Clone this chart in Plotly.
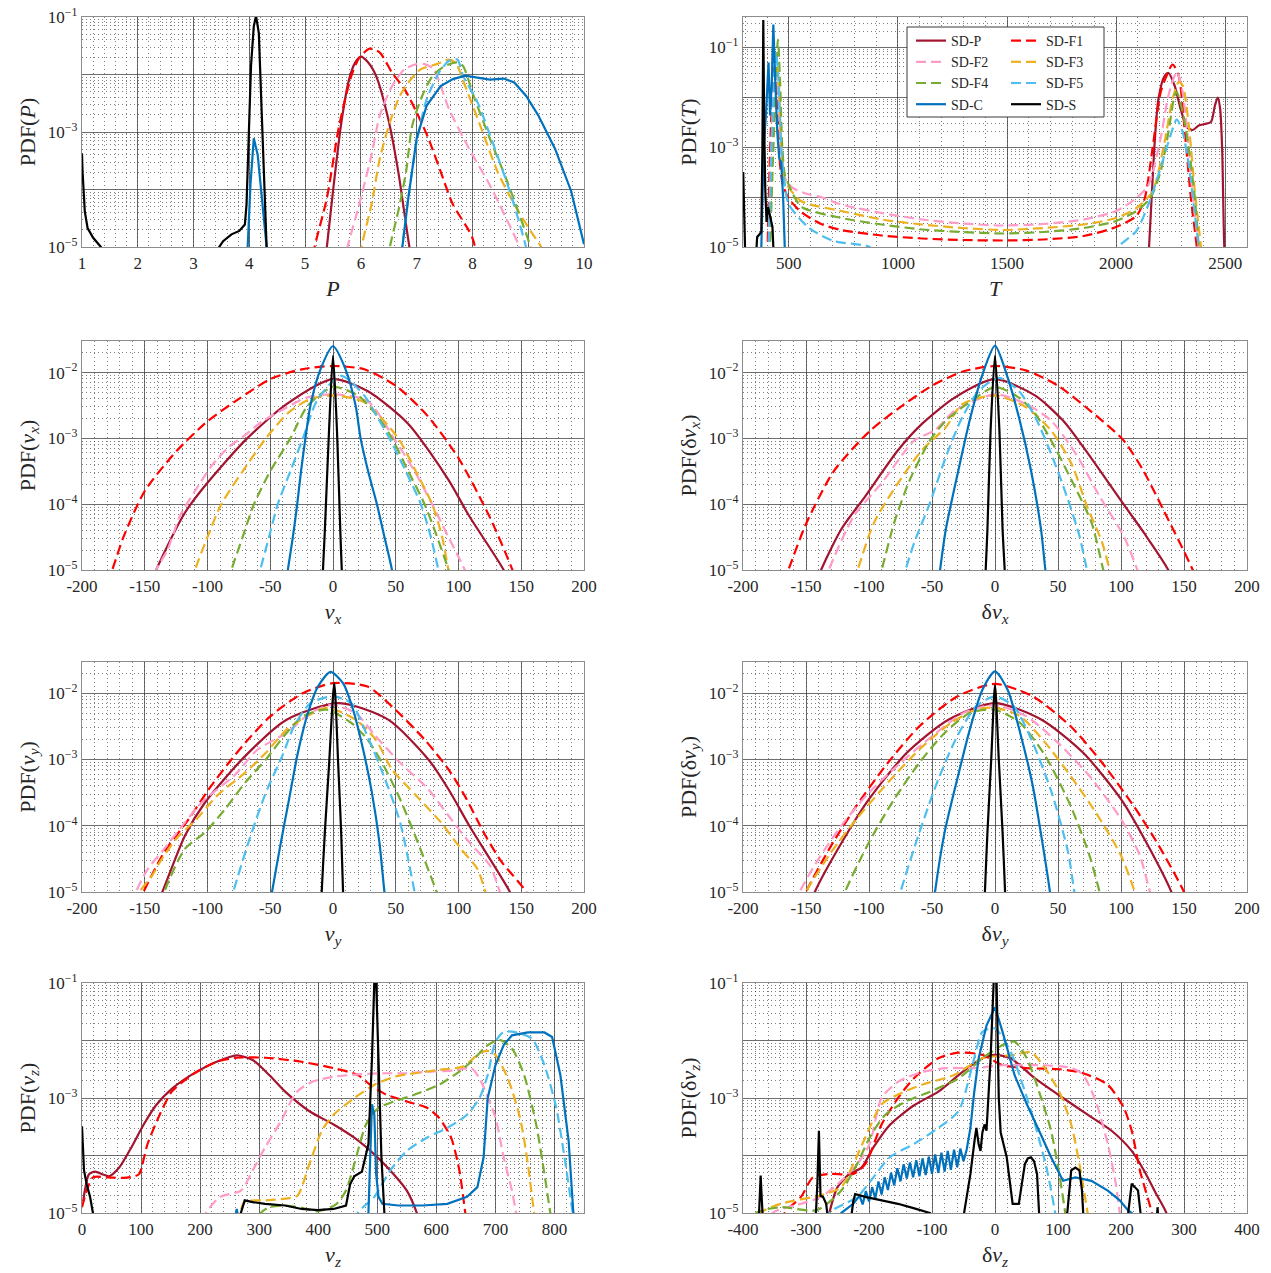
import plotly.graph_objects as go

# ---------------- data (x, log10 PDF) ----------------
SERIES = ["SD-P", "SD-F1", "SD-F2", "SD-F3", "SD-F4", "SD-F5", "SD-C", "SD-S"]

P_CURVES = {
    "SD-P": ([5.3, 5.39, 5.5, 5.65, 5.79, 5.9, 6.0, 6.12, 6.27, 6.49, 6.67, 6.87, 6.95],
             [-5.7, -5.0, -4.03, -2.83, -2.08, -1.79, -1.69, -1.78, -2.02, -2.77, -3.69, -5.0, -5.4]),
    "SD-F1": ([5.1, 5.17, 5.39, 5.61, 5.83, 5.97, 6.16, 6.34, 6.56, 6.78, 7.0, 7.21, 7.43, 7.65, 7.94, 8.02, 8.1],
              [-5.4, -5.0, -4.15, -2.89, -2.02, -1.71, -1.55, -1.62, -1.97, -2.25, -2.66, -3.11, -3.69, -4.26, -4.72, -4.9, -5.3]),
    "SD-F2": ([5.7, 5.76, 5.97, 6.19, 6.34, 6.56, 6.78, 7.0, 7.14, 7.3, 7.58, 7.94, 8.31, 8.6, 8.82, 8.9],
              [-5.3, -5.0, -4.26, -3.4, -2.71, -2.2, -1.91, -1.82, -1.82, -1.9, -2.6, -3.29, -3.92, -4.49, -4.95, -5.2]),
    "SD-F3": ([5.95, 6.01, 6.19, 6.34, 6.52, 6.7, 6.85, 7.07, 7.36, 7.58, 7.7, 7.87, 8.16, 8.45, 8.75, 9.04, 9.22, 9.3],
              [-5.4, -5.0, -4.26, -3.46, -2.83, -2.37, -2.14, -1.91, -1.82, -1.74, -1.8, -2.2, -2.94, -3.69, -4.26, -4.72, -4.98, -5.2]),
    "SD-F4": ([6.45, 6.52, 6.67, 6.81, 6.92, 7.1, 7.29, 7.51, 7.73, 7.83, 8.02, 8.31, 8.6, 8.82, 9.04, 9.1],
              [-5.5, -5.0, -4.38, -3.69, -2.89, -2.37, -2.02, -1.85, -1.79, -1.85, -2.37, -3.11, -3.8, -4.38, -5.0, -5.3]),
    "SD-F5": ([6.68, 6.74, 6.85, 7.0, 7.18, 7.4, 7.58, 7.73, 7.83, 8.09, 8.38, 8.67, 8.85, 8.96, 9.05],
              [-5.4, -5.0, -4.15, -3.17, -2.43, -1.97, -1.76, -1.74, -2.02, -2.48, -3.23, -4.03, -4.61, -5.0, -5.4]),
    "SD-C": ([3.93, 3.97, 4.02, 4.08, 4.15, 4.22, 4.31, 4.36, None,
              6.68, 6.74, 6.85, 7.0, 7.18, 7.43, 7.65, 7.87, 8.09, 8.31, 8.56, 8.75, 8.96, 9.18, 9.48, 9.77, 10.0],
             [-5.6, -5.0, -3.92, -3.11, -3.4, -4.15, -5.0, -5.5, None,
              -5.5, -5.0, -4.15, -3.11, -2.54, -2.2, -2.08, -2.02, -2.06, -2.09, -2.07, -2.14, -2.37, -2.71, -3.29, -4.03, -4.95]),
    "SD-S": ([1.0, 1.01, 1.05, 1.1, 1.2, 1.34, 1.4, None,
              3.4, 3.46, 3.53, 3.68, 3.82, 3.92, 3.95, 3.99, 4.03, 4.08, 4.12, 4.17, 4.21, 4.26, 4.31, 4.35],
             [-3.37, -3.69, -4.38, -4.67, -4.84, -5.0, -5.2, None,
              -5.2, -5.0, -4.9, -4.78, -4.72, -4.61, -4.26, -2.99, -1.85, -1.16, -0.98, -1.28, -2.43, -3.86, -5.0, -5.4]),
}

T_CURVES = {
    "SD-P": ([2140, 2151, 2175, 2194, 2222, 2240, 2268, 2296, 2324, 2351, 2379, 2407, 2435, 2453, 2466, 2477, 2486, 2496, 2505],
             [-5.6, -5.0, -3.03, -2.04, -1.58, -1.52, -1.77, -2.24, -2.6, -2.66, -2.57, -2.54, -2.5, -2.17, -2.01, -2.24, -3.03, -5.0, -5.6]),
    "SD-F1": ([400, 417, 432, 445, 460, 473, 500, 556, 648, 741, 926, 1111, 1296, 1481, 1667, 1852, 2000, 2093, 2130,
               2167, 2204, 2231, 2259, 2287, 2315, 2343, 2370, 2380],
              [-5.5, -2.7, -1.38, -2.04, -3.36, -3.76, -4.03, -4.3, -4.54, -4.66, -4.77, -4.83, -4.86, -4.87, -4.85, -4.78,
               -4.6, -4.38, -4.05, -3.03, -1.91, -1.58, -1.35, -1.58, -2.7, -4.03, -5.0, -5.5]),
    "SD-F2": ([405, 420, 437, 450, 462, 480, 519, 593, 648, 741, 926, 1111, 1296, 1481, 1667, 1852, 2000, 2093, 2148,
               2204, 2240, 2278, 2305, 2333, 2361, 2379, 2390],
              [-5.5, -3.0, -1.5, -1.8, -3.0, -3.6, -3.82, -3.95, -4.0, -4.15, -4.32, -4.45, -4.53, -4.57, -4.54, -4.45,
               -4.28, -4.02, -3.76, -2.83, -1.97, -1.5, -1.9, -3.03, -4.35, -5.0, -5.5]),
    "SD-F3": ([410, 425, 442, 455, 468, 485, 556, 741, 926, 1111, 1296, 1481, 1667, 1852, 2000, 2093, 2167, 2222, 2259,
               2287, 2305, 2333, 2361, 2389, 2400],
              [-5.5, -3.0, -1.2, -1.8, -3.2, -3.7, -4.08, -4.28, -4.45, -4.55, -4.62, -4.66, -4.62, -4.55, -4.42, -4.22,
               -3.89, -2.9, -2.04, -1.7, -1.77, -2.56, -3.89, -5.0, -5.5]),
    "SD-F4": ([410, 430, 443, 450, 460, 470, 482, 500, 556, 741, 926, 1111, 1296, 1481, 1667, 1852, 2000, 2093, 2157,
               2204, 2240, 2268, 2278, 2305, 2333, 2361, 2379, 2390],
              [-5.5, -2.9, -1.38, -0.85, -1.7, -3.0, -3.56, -3.76, -4.19, -4.42, -4.55, -4.65, -4.7, -4.73, -4.7, -4.62,
               -4.48, -4.28, -4.02, -3.49, -2.7, -1.97, -1.9, -2.3, -3.03, -4.02, -5.0, -5.5]),
    "SD-F5": ([405, 425, 440, 450, 465, 480, 500, 593, 704, 870, 900, None, 1990, 2009, 2093, 2148, 2204, 2240, 2278,
               2305, 2333, 2361, 2379, 2390],
              [-5.5, -2.5, -1.1, -1.5, -3.0, -3.7, -4.15, -4.62, -4.88, -5.0, -5.2, None, -5.2, -5.0, -4.68, -4.15, -3.42,
               -2.9, -2.45, -2.7, -3.36, -4.35, -5.0, -5.5]),
    "SD-C": ([370, 374, 385, 395, 407, 414, 422, 429, 438, 447, 456, 465, 474, 479, 485],
             [-5.5, -5.0, -3.0, -2.37, -1.31, -2.37, -1.7, -0.55, -1.7, -2.7, -3.23, -3.3, -4.02, -5.0, -5.5]),
    "SD-S": ([291, 294, 298, 302, None, 345, 355, 365, 374, 379, 383, 387, 392, 398, 405, 415, 425, 429, 432],
             [-3.5, -4.2, -5.0, -5.5, None, -5.5, -4.8, -4.75, -4.7, -3.0, -0.46, -2.5, -3.83, -4.5, -4.2, -4.4, -4.6, -5.0, -5.5]),
}

VX_CURVES = {
    "SD-P": ([-150, -141, -118, -102, -70, -37, 0, 27.5, 60, 92, 108.5, 136, 145],
             [-5.4, -5.0, -4.13, -3.72, -3.03, -2.48, -2.1, -2.28, -2.78, -3.63, -4.18, -5.0, -5.4]),
    "SD-F1": ([-185, -176, -167, -150, -125, -100, -75, -50, -25, 0, 25, 50, 75, 100, 125, 143, 150],
              [-5.4, -5.0, -4.5, -3.8, -3.2, -2.74, -2.4, -2.1, -1.95, -1.9, -1.95, -2.2, -2.65, -3.3, -4.2, -5.0, -5.4]),
    "SD-F2": ([-150, -141, -132, -122, -110, -96, -83, -70, -57, -37, -21, 0, 27.5, 48.6, 65, 79, 92, 105, 112],
              [-5.5, -5.0, -4.7, -4.18, -3.8, -3.4, -3.13, -2.95, -2.75, -2.53, -2.38, -2.33, -2.43, -3.0, -3.5, -4.0, -4.5, -5.0, -5.4]),
    "SD-F3": ([-116, -110, -100, -89, -72, -53.5, -35, -18, 0, 25, 52, 66, 79, 87, 92, 97],
              [-5.4, -5.0, -4.5, -4.0, -3.5, -3.0, -2.6, -2.4, -2.35, -2.45, -3.0, -3.5, -4.0, -4.5, -5.0, -5.4]),
    "SD-F4": ([-87, -81, -72, -63, -50, -34, -20, 0, 20, 35, 47, 60, 73, 83, 92, 97],
              [-5.4, -5.0, -4.5, -4.0, -3.5, -3.0, -2.5, -2.22, -2.35, -2.65, -3.0, -3.5, -4.0, -4.5, -5.0, -5.4]),
    "SD-F5": ([-63, -58, -51, -44, -34, -24, -12, 6.5, 25, 36, 45, 58, 70, 78, 84, 89],
              [-5.4, -5.0, -4.5, -4.0, -3.5, -3.0, -2.4, -2.05, -2.35, -2.7, -3.0, -3.5, -4.0, -4.5, -5.0, -5.4]),
    "SD-C": ([-39, -36, -32, -28.5, -25.5, -22, -18, -10, 0, 10, 18, 22, 28, 35, 41, 47, 50],
             [-5.4, -5.0, -4.5, -4.0, -3.5, -3.0, -2.5, -1.95, -1.6, -1.95, -2.5, -3.0, -3.5, -4.0, -4.5, -5.0, -5.4]),
    "SD-S": ([-9, -8, -6.5, -3.2, 0, 3.2, 5.8, 7, 8],
             [-5.5, -5.0, -4.4, -2.9, -1.74, -2.9, -4.4, -5.0, -5.5]),
}

DVX_CURVES = {
    "SD-P": ([-145, -138, -122, -103, -77, -58, -32, 0, 32, 54, 70, 102, 118, 137.5, 145],
             [-5.4, -5.0, -4.38, -3.88, -3.18, -2.78, -2.38, -2.1, -2.35, -2.73, -3.13, -4.0, -4.43, -5.0, -5.4]),
    "SD-F1": ([-172, -164, -150, -128, -100, -77, -50, -25, 0, 25, 50, 80, 102, 118, 134, 157, 165],
              [-5.4, -5.0, -4.3, -3.5, -2.9, -2.55, -2.2, -1.98, -1.9, -1.97, -2.2, -2.65, -3.03, -3.5, -4.1, -5.0, -5.4]),
    "SD-F2": ([-140, -132, -112, -90, -64, -48, -32, 0, 25, 44.5, 64, 83, 102, 113, 120],
              [-5.4, -5.0, -4.18, -3.68, -3.03, -2.88, -2.58, -2.33, -2.48, -2.73, -3.23, -3.88, -4.48, -5.0, -5.4]),
    "SD-F3": ([-115, -109, -96, -77, -58, -39, -26, 0, 25, 44.5, 60.6, 73, 85, 91, 96],
              [-5.4, -5.0, -4.28, -3.68, -3.18, -2.83, -2.48, -2.35, -2.53, -2.88, -3.38, -4.03, -4.58, -5.0, -5.4]),
    "SD-F4": ([-96, -90, -80, -67.6, -51.6, -39, -26, 0, 19, 32, 44.5, 60.6, 76.6, 86, 92],
              [-5.4, -5.0, -4.28, -3.63, -3.03, -2.73, -2.53, -2.22, -2.38, -2.63, -3.03, -3.63, -4.28, -5.0, -5.4]),
    "SD-F5": ([-76, -71, -64, -51.6, -39, -26, -13, 3, 19, 32, 44.5, 57, 67, 73, 78],
              [-5.4, -5.0, -4.58, -3.98, -3.28, -2.68, -2.28, -2.08, -2.28, -2.68, -3.23, -3.88, -4.48, -5.0, -5.4]),
    "SD-C": ([-46, -43.6, -39, -29, -19.5, -10, 0, 9.3, 19, 28.5, 36.5, 40, 43],
             [-5.4, -5.0, -4.38, -3.48, -2.68, -2.03, -1.59, -2.03, -2.68, -3.48, -4.38, -5.0, -5.4]),
    "SD-S": ([-8.5, -7.4, -6, -3.5, 0, 3.5, 6, 7.7, 8.8],
             [-5.5, -5.0, -4.38, -2.88, -1.74, -2.88, -4.38, -5.0, -5.5]),
}

VY_CURVES = {
    "SD-P": ([-145, -136, -118, -102, -70, -37, 5, 44, 76, 92, 108.6, 125, 141, 148],
             [-5.4, -5.0, -4.15, -3.65, -2.95, -2.4, -2.15, -2.4, -3.0, -3.45, -4.0, -4.5, -5.0, -5.3]),
    "SD-F1": ([-160, -151, -134.5, -115, -99, -83, -70, -50, -24, 0, 27.5, 47, 73, 92, 105, 121.5, 134.5, 154, 160],
              [-5.4, -5.0, -4.4, -3.9, -3.45, -3.05, -2.75, -2.35, -2.0, -1.85, -1.9, -2.2, -2.7, -3.15, -3.55, -4.15, -4.55, -5.0, -5.3]),
    "SD-F2": ([-163, -157, -147.5, -134.5, -118, -102, -79, -60, -37, -18, -2, 18, 34, 53.5, 76, 92, 108.6, 125, 133, 138],
              [-5.4, -5.0, -4.65, -4.35, -3.95, -3.6, -3.25, -2.85, -2.6, -2.3, -2.18, -2.3, -2.65, -3.05, -3.45, -3.85, -4.25, -4.6, -5.0, -5.3]),
    "SD-F3": ([-160, -154, -144, -138, -125, -108.6, -92.6, -70, -53.5, -37, -21, -5, 18, 34, 47, 66.5, 86, 102, 115, 121.5, 126],
              [-5.4, -5.0, -4.75, -4.55, -4.2, -3.9, -3.55, -3.2, -2.9, -2.55, -2.35, -2.22, -2.4, -2.7, -3.15, -3.55, -3.95, -4.35, -4.65, -5.0, -5.3]),
    "SD-F4": ([-140, -134.5, -118, -102, -86, -70, -53.5, -37, -24, -5, 14.6, 27.5, 40.5, 53.5, 66.5, 82.6, 88],
              [-5.4, -5.0, -4.35, -4.1, -3.75, -3.35, -3.0, -2.6, -2.35, -2.25, -2.45, -2.7, -3.1, -3.6, -4.2, -5.0, -5.3]),
    "SD-F5": ([-84, -79.4, -66.5, -53.5, -40.5, -31, -18, 0, 14.6, 27.5, 40.5, 53.5, 65, 69],
              [-5.4, -5.0, -4.2, -3.5, -2.95, -2.5, -2.15, -2.05, -2.15, -2.65, -3.25, -3.95, -5.0, -5.4]),
    "SD-C": ([-52, -48.6, -42, -35, -28, -20, -12, -2, 8, 16, 24, 31, 37, 41, 44],
             [-5.4, -5.0, -4.3, -3.6, -2.9, -2.3, -1.9, -1.68, -1.85, -2.25, -2.85, -3.5, -4.25, -5.0, -5.4]),
    "SD-S": ([-10, -9, -6.5, -3.2, 1, 4.2, 6.5, 8, 9],
             [-5.5, -5.0, -4.1, -3.1, -1.85, -3.1, -4.1, -5.0, -5.5]),
}

DVY_CURVES = {
    "SD-P": ([-150, -143, -120, -100, -70, -37, 0, 37, 70, 100, 120, 140, 147],
             [-5.4, -5.0, -4.2, -3.6, -2.9, -2.4, -2.15, -2.4, -2.9, -3.6, -4.25, -5.0, -5.4]),
    "SD-F1": ([-158, -150, -130, -110, -85, -60, -30, 0, 30, 60, 85, 110, 130, 150, 158],
              [-5.4, -5.0, -4.3, -3.7, -3.05, -2.5, -2.05, -1.86, -2.05, -2.5, -3.05, -3.7, -4.3, -5.0, -5.4]),
    "SD-F2": ([-162, -155, -140, -120, -100, -75, -50, -25, 0, 25, 50, 75, 100, 115, 123, 128],
              [-5.4, -5.0, -4.5, -3.95, -3.5, -3.05, -2.65, -2.3, -2.18, -2.35, -2.75, -3.25, -3.9, -4.45, -5.0, -5.3]),
    "SD-F3": ([-157, -150, -130, -110, -85, -60, -35, -15, 0, 20, 40, 60, 80, 100, 111, 116],
              [-5.4, -5.0, -4.4, -3.9, -3.35, -2.85, -2.45, -2.25, -2.22, -2.35, -2.75, -3.25, -3.8, -4.45, -5.0, -5.3]),
    "SD-F4": ([-125, -119, -100, -80, -60, -40, -20, 0, 20, 40, 60, 75, 83, 88],
              [-5.4, -5.0, -4.25, -3.6, -3.05, -2.6, -2.3, -2.25, -2.45, -2.95, -3.7, -4.45, -5.0, -5.4]),
    "SD-F5": ([-80, -75, -60, -45, -30, -15, 0, 15, 30, 45, 58, 63, 67],
              [-5.4, -5.0, -4.1, -3.3, -2.65, -2.2, -2.05, -2.2, -2.75, -3.5, -4.4, -5.0, -5.4]),
    "SD-C": ([-50, -47.6, -40, -30, -20, -10, 0, 10, 20, 30, 38, 43.6, 46],
             [-5.4, -5.0, -4.1, -3.3, -2.55, -1.95, -1.67, -1.95, -2.6, -3.4, -4.3, -5.0, -5.4]),
    "SD-S": ([-9, -8, -6, -3, 0, 3, 6, 8, 9],
             [-5.5, -5.0, -4.1, -3.0, -1.88, -3.0, -4.1, -5.0, -5.5]),
}

VZ_CURVES = {
    "SD-P": ([2, 5, 11.6, 22, 35.6, 46, 63, 83.6, 104, 125, 152, 193, 228, 262, 289, 317, 344, 385, 426, 461, 495, 522, 550, 567, 575],
             [-4.8, -4.6, -4.33, -4.28, -4.33, -4.36, -4.21, -3.86, -3.47, -3.13, -2.84, -2.55, -2.37, -2.26, -2.34, -2.6, -2.89,
              -3.23, -3.46, -3.69, -3.98, -4.26, -4.61, -5.0, -5.3]),
    "SD-F1": ([0, 8, 18.5, 42.5, 70, 90, 97, 111, 131.6, 152, 186, 227.5, 262, 310, 371.5, 426, 467, 488, 515, 550, 584, 604,
               625, 639, 649, 655],
              [-4.9, -4.61, -4.38, -4.38, -4.39, -4.36, -4.32, -3.8, -3.29, -2.89, -2.6, -2.37, -2.3, -2.3, -2.37, -2.48, -2.6,
               -2.77, -2.94, -3.06, -3.17, -3.34, -3.69, -4.26, -5.0, -5.4]),
    "SD-F2": ([200, 210, 234, 269, 289, 310, 337, 364, 392, 426, 467, 508, 550, 591, 632, 659, 673, 700, 714, 728, 735, 742],
              [-5.4, -5.0, -4.72, -4.61, -4.26, -3.86, -3.4, -2.89, -2.71, -2.63, -2.59, -2.57, -2.57, -2.54, -2.52, -2.48,
               -2.66, -3.34, -4.03, -4.61, -5.0, -5.4]),
    "SD-F3": ([265, 275, 310, 344, 364.6, 385, 406, 426, 461, 495, 529, 563.5, 604.5, 646, 673, 687, 700, 721, 741.6, 755,
               765.6, 772],
              [-5.2, -4.81, -4.78, -4.75, -4.7, -4.15, -3.57, -3.29, -3.0, -2.77, -2.63, -2.57, -2.51, -2.45, -2.22, -2.18,
               -2.25, -2.66, -3.34, -4.15, -5.0, -5.4]),
    "SD-F4": ([295, 303, 317, 344, 372, 399, 430, 447, 461, 481, 502, 529, 563.5, 604.5, 639, 659, 687, 707, 728, 748.5,
               769, 783, 793, 800],
              [-5.3, -5.0, -4.9, -4.87, -4.91, -4.97, -4.85, -4.61, -4.15, -3.46, -3.17, -3.06, -2.94, -2.77, -2.54, -2.37,
               -2.08, -1.99, -2.14, -2.6, -3.46, -4.32, -5.0, -5.4]),
    "SD-F5": ([460, 467, 495, 522, 550, 584, 618.5, 652, 673, 687, 700, 714, 735, 762, 783, 803, 817, 831, 838],
              [-5.4, -5.0, -4.72, -4.26, -3.92, -3.69, -3.52, -3.29, -3.0, -2.6, -2.02, -1.85, -1.86, -1.97, -2.43, -3.17,
               -4.03, -5.0, -5.4]),
    "SD-C": ([255, 262, 268, None, 482, 485, 488, 491, 495, 498, 502, 508.6, 536, 577, 618.5, 652, 669.5, 680, 687, 700, 714,
              728, 755, 783, 796, 810, 824, 832, 838],
             [-5.3, -4.93, -5.3, None, -5.5, -5.0, -4.03, -3.11, -3.29, -4.32, -4.72, -4.84, -4.87, -4.87, -4.84, -4.72, -4.55,
              -4.03, -3.0, -2.43, -2.08, -1.91, -1.86, -1.86, -1.94, -2.6, -3.75, -5.0, -5.4]),
    "SD-S": ([0, 3.4, 8, 13.7, 18.5, 24, None, 265, 269, 275.5, 289, 310, 344, 372, 399, 426, 447, 454, 461, 474, 485, 491,
              495, 498, 502, 507, 512, 516],
             [-3.49, -4.26, -4.5, -4.72, -5.0, -5.4, None, -5.4, -5.0, -4.78, -4.81, -4.84, -4.87, -4.93, -4.95, -4.93, -4.87,
              -4.5, -4.36, -4.28, -3.8, -2.31, -0.95, -0.95, -2.31, -4.03, -5.0, -5.4]),
}

DVZ_CURVES = {
    "SD-P": ([-270, -263, -250, -231, -212, -193, -167, -129, -90, -52, -20, 0, 25, 63.5, 108, 147, 185, 217, 236.5, 256, 272, 280],
             [-5.4, -5.0, -4.55, -4.32, -4.21, -3.86, -3.47, -3.13, -2.89, -2.55, -2.31, -2.25, -2.31, -2.66, -3.0, -3.29,
              -3.57, -3.92, -4.26, -4.67, -5.0, -5.4]),
    "SD-F1": ([-345, -334, -308, -289, -263, -225, -206, -180, -154, -129, -90, -58, -20, 12, 50.6, 102, 140, 179, 204.5,
               217, 230, 249, 255],
              [-5.4, -5.0, -4.72, -4.38, -4.32, -4.32, -4.15, -3.46, -3.0, -2.66, -2.31, -2.21, -2.25, -2.43, -2.48, -2.5,
               -2.57, -2.77, -3.17, -3.57, -4.26, -5.0, -5.4]),
    "SD-F2": ([-360, -353, -308, -276, -244, -218.6, -199, -180, -154, -116, -77.6, -33, 12, 44, 76, 121.8, 140, 160, 179,
               191.7, 198, 203],
              [-5.3, -5.0, -4.84, -4.72, -4.44, -4.15, -3.8, -3.0, -2.72, -2.55, -2.48, -2.48, -2.43, -2.43, -2.43, -2.48,
               -2.6, -3.06, -3.8, -4.49, -5.0, -5.4]),
    "SD-F3": ([-380, -372, -340, -276, -244, -225, -206, -180, -154, -116, -65, -20, 31, 57, 76, 102, 121, 134, 147, 152],
              [-5.3, -5.0, -4.84, -4.69, -4.55, -4.15, -3.69, -3.11, -2.94, -2.77, -2.6, -2.31, -2.25, -2.2, -2.43, -2.89,
               -3.46, -4.15, -5.0, -5.4]),
    "SD-F4": ([-385, -379, -340, -283, -244, -219, -199, -174, -141.7, -103, -58, -20, 12, 31, 50.6, 70, 89, 102, 111.5, 116],
              [-5.3, -5.0, -4.9, -4.95, -4.61, -4.15, -3.69, -3.29, -3.06, -2.89, -2.66, -2.31, -2.08, -2.02, -2.31, -2.89,
               -3.57, -4.32, -5.0, -5.4]),
    "SD-F5": ([-270, -263, -218.6, -193, -167, -129, -90, -58, -33, -20, 0, 25, 44, 63.5, 82.7, 95.5, 100],
              [-5.4, -5.0, -4.72, -4.38, -4.03, -3.8, -3.52, -3.23, -2.31, -1.85, -1.79, -2.2, -2.77, -3.46, -4.26, -5.0, -5.4]),
    "SD-C": ([-250, -244, -225, -215, -210, -205, -200, -195, -190, -185, -180, -175, -170, -165, -160, -155, -150, -145,
              -140, -135, -130, -125, -120, -115, -110, -105, -100, -95, -90, -85, -80, -75, -70, -65, -60, -55, -50, -45,
              -39, -33, -26, -13.5, 0, 12, 31, 50.6, 70, 89, 108, 127.6, 153, 179, 198, 211, 217, 222],
             [-5.3, -5.0, -4.84, -4.70, -4.85, -4.62, -4.80, -4.55, -4.75, -4.45, -4.68, -4.38, -4.60, -4.30, -4.52, -4.22,
              -4.45, -4.15, -4.40, -4.12, -4.38, -4.08, -4.36, -4.05, -4.34, -4.02, -4.32, -3.98, -4.30, -3.95, -4.28, -3.92,
              -4.25, -3.90, -4.20, -3.88, -4.10, -3.9, -3.52, -2.9, -2.31, -1.74, -1.42, -1.85, -2.6, -3.11, -3.57, -4.03,
              -4.44, -4.38, -4.44, -4.61, -4.78, -4.95, -5.0, -5.4]),
    "SD-S": ([-376, -372, -370, -367, None, -286, -282, -279.5, -277, -273, -268, -262, None,
              -232, -225, -222, -206, -180, -154, -128, -103, -97, None,
              -55, -49, -39, -32, -29.5, -26, -23, -20, -16.7, -13.5, -7, -2, 2.5, 6, 9, 18.6, 24, 28, 37.8, 42, 47.4, 52,
              57, 62, 66.7, 70, 74, None,
              110, 114.7, 121, 127.6, 134, 138, 142, None,
              207, 211, 217, 222, 227, 231, 235, None,
              255, 258, 261],
             [-5.4, -4.35, -4.8, -5.4, None, -5.4, -4.5, -3.57, -4.7, -4.72, -4.84, -5.4, None,
              -5.4, -4.8, -4.67, -4.72, -4.78, -4.84, -4.92, -5.0, -5.3, None,
              -5.4, -5.0, -4.32, -3.7, -3.52, -3.8, -3.92, -3.6, -3.46, -3.57, -2.31, -0.95, -0.95, -3.0, -3.6, -4.03, -4.5,
              -4.84, -4.84, -4.5, -4.15, -4.05, -4.03, -4.1, -4.32, -5.0, -5.4, None,
              -5.4, -5.0, -4.26, -4.21, -4.26, -4.6, -5.4, None,
              -5.4, -5.0, -4.49, -4.55, -4.61, -5.0, -5.4, None,
              -5.4, -4.9, -5.4]),
}

# ---------------- styles ----------------
COLORS = {"SD-P": "#A2142F", "SD-F1": "#FF0000", "SD-F2": "#FF9BC8", "SD-F3": "#EDB120",
          "SD-F4": "#77AC30", "SD-F5": "#4DBEEE", "SD-C": "#0072BD", "SD-S": "#000000"}
DASHED = {"SD-F1", "SD-F2", "SD-F3", "SD-F4", "SD-F5"}
LEGEND_OF = {"SD-P": "legend", "SD-F2": "legend", "SD-F4": "legend", "SD-C": "legend",
             "SD-F1": "legend2", "SD-F3": "legend2", "SD-F5": "legend2", "SD-S": "legend2"}

FONT = "Liberation Serif, DejaVu Serif, Times New Roman, serif"
W, H = 1271, 1273

# panel pixel boxes (left, right, top, bottom)
COLS = [(82, 584), (743, 1247)]
ROWS = [(17, 247), (341, 570), (662, 892), (983, 1213)]


def sup(e):
    return "10<sup>\u2212%d</sup>" % e


PANELS = [
    dict(curves=P_CURVES, xr=[1, 10], xt=list(range(1, 11)), xminor=0.2, yr=[-5, -1], ylab=[1, 3, 5],
         xtitle="<i>P</i>", ytitle="PDF(<i>P</i>)", linear={"SD-S", "SD-C"}),
    dict(curves=T_CURVES, xr=[290, 2600], xt=[500, 1000, 1500, 2000, 2500], xminor=100, yr=[-5, -0.4], ylab=[1, 3, 5],
         xtitle="<i>T</i>", ytitle="PDF(<i>T</i>)", linear={"SD-S", "SD-C"}),
    dict(curves=VX_CURVES, xr=[-200, 200], xt=list(range(-200, 201, 50)), xminor=10, yr=[-5, -1.52], ylab=[2, 3, 4, 5],
         xtitle="<i>v<sub>x</sub></i>", ytitle="PDF(<i>v<sub>x</sub></i>)", linear=set()),
    dict(curves=DVX_CURVES, xr=[-200, 200], xt=list(range(-200, 201, 50)), xminor=10, yr=[-5, -1.52], ylab=[2, 3, 4, 5],
         xtitle="\u03b4<i>v<sub>x</sub></i>", ytitle="PDF(\u03b4<i>v<sub>x</sub></i>)", linear=set()),
    dict(curves=VY_CURVES, xr=[-200, 200], xt=list(range(-200, 201, 50)), xminor=10, yr=[-5, -1.53], ylab=[2, 3, 4, 5],
         xtitle="<i>v<sub>y</sub></i>", ytitle="PDF(<i>v<sub>y</sub></i>)", linear=set()),
    dict(curves=DVY_CURVES, xr=[-200, 200], xt=list(range(-200, 201, 50)), xminor=10, yr=[-5, -1.53], ylab=[2, 3, 4, 5],
         xtitle="\u03b4<i>v<sub>y</sub></i>", ytitle="PDF(\u03b4<i>v<sub>y</sub></i>)", linear=set()),
    dict(curves=VZ_CURVES, xr=[0, 850], xt=list(range(0, 801, 100)), xminor=20, yr=[-5, -1], ylab=[1, 3, 5],
         xtitle="<i>v<sub>z</sub></i>", ytitle="PDF(<i>v<sub>z</sub></i>)", linear={"SD-S", "SD-C"}),
    dict(curves=DVZ_CURVES, xr=[-400, 400], xt=list(range(-400, 401, 100)), xminor=20, yr=[-5, -1], ylab=[1, 3, 5],
         xtitle="\u03b4<i>v<sub>z</sub></i>", ytitle="PDF(\u03b4<i>v<sub>z</sub></i>)", linear={"SD-S", "SD-C"}),
]

fig = go.Figure()
layout = {}
MAJOR = "rgba(60,60,60,0.75)"
MINOR = "rgba(40,40,40,0.6)"
MINOR_DASH = "1px,3px"

for i, pan in enumerate(PANELS):
    r, c = divmod(i, 2)
    sfx = "" if i == 0 else str(i + 1)
    xl, xr_ = COLS[c]
    yt, yb = ROWS[r]
    xdom = [xl / W, xr_ / W]
    ydom = [1 - yb / H, 1 - yt / H]

    for name in SERIES:
        xs, ly = pan["curves"][name]
        ys = [None if v is None else 10 ** v for v in ly]
        shape = "linear" if name in pan["linear"] else "spline"
        fig.add_trace(go.Scatter(
            x=xs, y=ys, mode="lines", name=name,
            line=dict(color=COLORS[name], width=2.2,
                      dash="10px,5px" if name in DASHED else "solid",
                      shape=shape, smoothing=0.7 if shape == "spline" else None),
            xaxis="x" + sfx, yaxis="y" + sfx,
            showlegend=(i == 1), legend=LEGEND_OF[name],
            connectgaps=False, hoverinfo="skip"))

    e_lo, e_hi = pan["yr"]
    decades = [e for e in range(-5, 0) if e <= e_hi + 1e-9]
    ytv = [10.0 ** e for e in decades]
    ytt = [sup(-e) if -e in pan["ylab"] else "" for e in decades]
    yminor = [k * 10.0 ** e for e in range(-6, 0) for k in range(2, 10)]

    xtt = [str(v) for v in pan["xt"]]
    layout["xaxis" + sfx] = dict(
        domain=xdom, anchor="y" + sfx, range=pan["xr"], tickmode="array", tickvals=pan["xt"], ticktext=xtt,
        showgrid=True, gridcolor=MAJOR, gridwidth=1, zeroline=False,
        minor=dict(dtick=pan["xminor"], tick0=0, showgrid=True, gridcolor=MINOR, griddash=MINOR_DASH, gridwidth=1, ticks=""),
        showline=True, mirror=True, linecolor="#8c8c8c", linewidth=1.2, ticks="",
        tickfont=dict(family=FONT, size=17, color="#262626"),
        title=dict(text=pan["xtitle"], font=dict(family=FONT, size=22, color="#262626"), standoff=9),
        automargin=False)
    layout["yaxis" + sfx] = dict(
        domain=ydom, anchor="x" + sfx, type="log", range=pan["yr"], tickmode="array", tickvals=ytv, ticktext=ytt,
        showgrid=True, gridcolor=MAJOR, gridwidth=1, zeroline=False,
        minor=dict(tickmode="array", tickvals=yminor, showgrid=True, gridcolor=MINOR, griddash=MINOR_DASH, gridwidth=1, ticks=""),
        showline=True, mirror=True, linecolor="#8c8c8c", linewidth=1.2, ticks="",
        tickfont=dict(family=FONT, size=17, color="#262626"),
        title=dict(text=pan["ytitle"], font=dict(family=FONT, size=22, color="#262626"), standoff=6),
        automargin=False)

leg_common = dict(yanchor="top", xanchor="left", bgcolor="rgba(0,0,0,0)", borderwidth=0,
                  font=dict(family=FONT, size=14, color="#262626"), tracegroupgap=0, itemwidth=30,
                  traceorder="normal")
layout["legend"] = dict(x=911 / W, y=1 - 25 / H, **leg_common)
layout["legend2"] = dict(x=1006 / W, y=1 - 25 / H, **leg_common)

fig.update_layout(
    width=W, height=H, margin=dict(l=0, r=0, t=0, b=0),
    paper_bgcolor="white", plot_bgcolor="white",
    font=dict(family=FONT, size=16, color="#262626"),
    shapes=[dict(type="rect", xref="paper", yref="paper", x0=907 / W, x1=1104 / W, y0=1 - 117 / H, y1=1 - 27 / H,
                 fillcolor="white", line=dict(color="#3a3a3a", width=1), layer="above")],
    **layout)

fig.write_html("out.html")
